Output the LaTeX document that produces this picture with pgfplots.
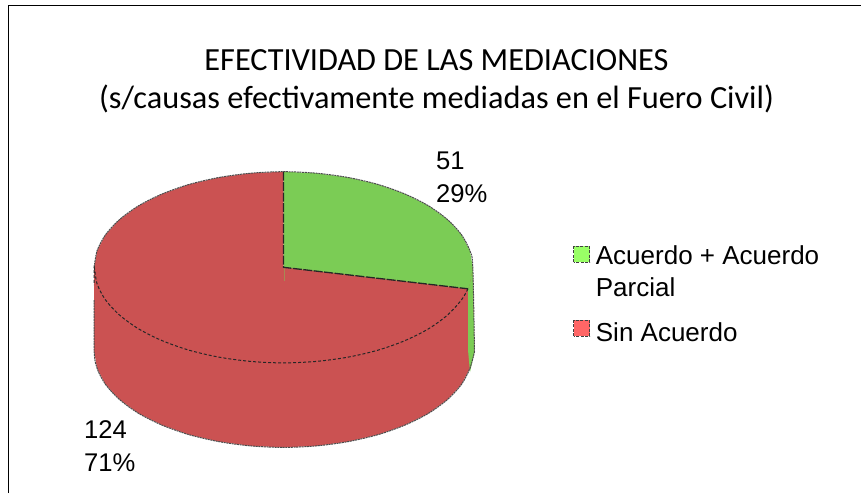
\documentclass[border=0pt]{standalone}
\usepackage{pgfplots}
\pgfplotsset{compat=1.18}
\usepackage{fontspec}
\setmainfont{Liberation Sans}
\newfontfamily\titlefont{Carlito}
\definecolor{gtop}{HTML}{7BCC55}
\definecolor{rtop}{HTML}{CB5252}
\definecolor{glegend}{HTML}{99FF66}
\definecolor{rlegend}{HTML}{FF6666}
\begin{document}
\begin{tikzpicture}[x=1pt,y=1pt]
\path (0,0) rectangle (863,493);
\begin{axis}[
  at={(0,0)},anchor=south west,
  scale only axis,width=863pt,height=493pt,
  xmin=0,xmax=863,ymin=0,ymax=493,y dir=reverse,
  hide axis,clip=false,
  legend style={at={(axis cs:573,243)},anchor=north west,draw=none,fill=none,
    font=\fontsize{26}{32}\selectfont,cells={align=left,anchor=west},
    row sep=20pt,inner sep=0pt},
  legend cell align=left,
]
% frame
\addplot[black,line width=0.9pt,forget plot] coordinates {(8.5,493)(8.5,5.5)(860.5,5.5)};
% side, red
\addplot[fill=rtop,draw=none,forget plot] coordinates {
(472.8,267.3)(474.5,351.8)(469.9,368.4)(461.4,384.5)(447.4,399.6)(428.5,413.3)(405.2,425.0)(378.2,434.6)(348.2,441.6)(316.4,445.9)(283.5,447.4)
(250.6,445.9)(218.8,441.6)(188.8,434.6)(161.8,425.0)(138.5,413.3)(119.6,399.6)(105.6,384.5)(97.1,368.4)(94.2,351.8)(94.2,267.3)} --cycle;
% side, green
\addplot[fill=gtop,draw=none,forget plot] coordinates {
(472.8,267.3)(469.9,283.9)(468.0,288.8)(468.0,350)(470,372)(474.5,351.8)} --cycle;
% top, red
\addplot[fill=rtop,draw=none,forget plot] coordinates {
(283.5,267.3)(468.0,288.8)(461.4,300.0)(447.4,315.1)(428.5,328.8)(405.2,340.5)(378.2,350.1)(348.2,357.1)(316.4,361.4)(283.5,362.9)
(250.6,361.4)(218.8,357.1)(188.8,350.1)(161.8,340.5)(138.5,328.8)(119.6,315.1)(105.6,300.0)(97.1,283.9)(94.2,267.3)
(97.1,250.7)(105.6,234.6)(119.6,219.5)(138.5,205.8)(161.8,194.1)(188.8,184.5)(218.8,177.5)(250.6,173.2)(283.5,171.7)} --cycle;
% top, green
\addplot[fill=gtop,draw=none,forget plot] coordinates {
(283.5,267.3)(283.5,171.7)(316.4,173.2)(348.2,177.5)(378.2,184.5)(405.2,194.1)(428.5,205.8)(447.4,219.5)(461.4,234.6)(469.9,250.7)(472.8,267.3)(469.9,283.9)(468.0,288.8)} --cycle;
% small mark under the centre
\addplot[gtop!45!rtop,line width=0.8pt,forget plot] coordinates {(284,267.3)(284,281)};
% outlines
\addplot[black!70,line width=1pt,dash pattern=on 2pt off 0.7pt,smooth,forget plot] coordinates {
(94.2,267.3)(97.1,250.7)(105.6,234.6)(119.6,219.5)(138.5,205.8)(161.8,194.1)(188.8,184.5)(218.8,177.5)(250.6,173.2)(283.5,171.7)(316.4,173.2)(348.2,177.5)(378.2,184.5)(405.2,194.1)(428.5,205.8)(447.4,219.5)(461.4,234.6)(469.9,250.7)(472.8,267.3)(474.5,351.8)};
\addplot[black!85,line width=1.3pt,dash pattern=on 9pt off 1.5pt,forget plot] coordinates {(283.5,171.7)(283.5,267.3)(468.0,288.8)};
\addplot[black!85,line width=1pt,dash pattern=on 3pt off 2pt,smooth,forget plot] coordinates {
(468.0,288.8)(461.4,300.0)(447.4,315.1)(428.5,328.8)(405.2,340.5)(378.2,350.1)(348.2,357.1)(316.4,361.4)(283.5,362.9)(250.6,361.4)(218.8,357.1)(188.8,350.1)(161.8,340.5)(138.5,328.8)(119.6,315.1)(105.6,300.0)(97.1,283.9)(94.2,267.3)(94.2,285)};
\addplot[black!70,line width=1pt,dash pattern=on 2pt off 0.7pt,smooth,forget plot] coordinates {
(94.2,300)(94.2,351.8)(97.1,368.4)(105.6,384.5)(119.6,399.6)(138.5,413.3)(161.8,425.0)(188.8,434.6)(218.8,441.6)(250.6,445.9)(283.5,447.4)(316.4,445.9)(348.2,441.6)(378.2,434.6)(405.2,425.0)(428.5,413.3)(447.4,399.6)(461.4,384.5)(469.9,368.4)(474.5,351.8)};
% legend
\addlegendimage{legend image code/.code={\draw[draw=black!75,dash pattern=on 3pt off 1.5pt,fill=glegend,line width=1pt] (0pt,9pt) rectangle (16pt,25pt); \path (20pt,9pt);}}
\addlegendentry{Acuerdo + Acuerdo\\Parcial}
\addlegendimage{legend image code/.code={\draw[draw=black!75,dash pattern=on 3pt off 1.5pt,fill=rlegend,line width=1pt] (0pt,-3pt) rectangle (16pt,13pt); \path (20pt,-3pt);}}
\addlegendentry{Sin Acuerdo}
% texts
\node[anchor=base,align=center,font=\titlefont\fontsize{32.3}{38.5}\selectfont] at (axis cs:436.5,108.5) {EFECTIVIDAD DE LAS MEDIACIONES\\(s/causas efectivamente mediadas en el Fuero Civil)};
\node[anchor=base west,align=left,inner sep=0pt,font=\fontsize{25.6}{33}\selectfont] at (axis cs:436,202.5) {51\\29\%};
\node[anchor=base west,align=left,inner sep=0pt,font=\fontsize{25.6}{33}\selectfont] at (axis cs:84,471) {124\\71\%};
\end{axis}
\end{tikzpicture}
\end{document}
